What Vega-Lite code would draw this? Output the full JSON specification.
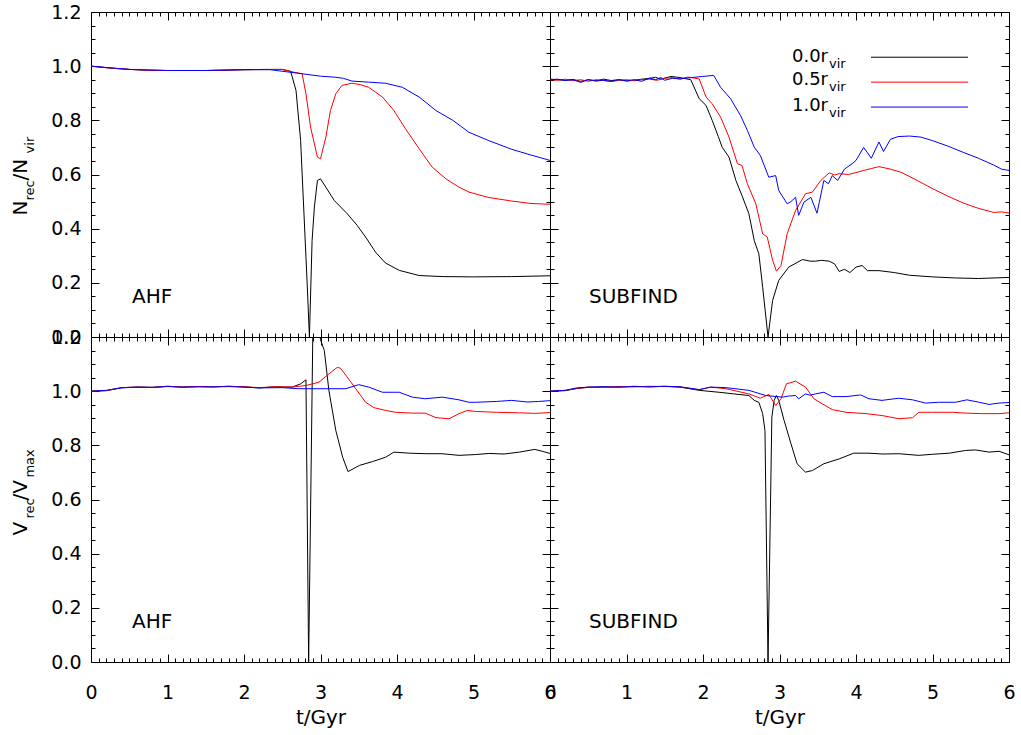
{
"$schema":"https://vega.github.io/schema/vega-lite/v6.json",
"background":"white",
"padding":{"left":10,"top":3,"right":5,"bottom":5},
"config":{"view":{"stroke":null},"font":"DejaVu Sans",
 "axis":{"labelFont":"DejaVu Sans","labelFontSize":19,"labelColor":"#000000","titleFont":"DejaVu Sans","titleFontSize":20,"titleFontWeight":"normal","titleColor":"#000000","tickColor":"#000000","domainColor":"#000000","grid":false,"tickWidth":1,"domainWidth":1,"labelFlush":false,"labelOverlap":false}},
"datasets":{
"frame":[{"t":0,"v":0},{"t":6,"v":1.2}],
"labels":[{"p":"TL","t":0.536,"v":0.127,"s":"AHF"},{"p":"TR","t":0.51,"v":0.127,"s":"SUBFIND"},{"p":"BL","t":0.536,"v":0.127,"s":"AHF"},{"p":"BR","t":0.51,"v":0.127,"s":"SUBFIND"}],
"ytitle":[{"p":"TL","k":"main","t":-0.837,"v":0.449,"s":"N"},{"p":"TL","k":"sub","t":-0.745,"v":0.504,"s":"rec"},{"p":"TL","k":"main","t":-0.837,"v":0.578,"s":"/N"},{"p":"TL","k":"sub","t":-0.745,"v":0.678,"s":"vir"},
{"p":"BL","k":"main","t":-0.837,"v":0.467,"s":"V"},{"p":"BL","k":"sub","t":-0.745,"v":0.530,"s":"rec"},{"p":"BL","k":"main","t":-0.837,"v":0.596,"s":"/V"},{"p":"BL","k":"sub","t":-0.745,"v":0.681,"s":"max"}],
"legtext":[{"k":"main","t":3.634,"v":1.014,"s":"0.0r"},{"k":"sub","t":3.647,"v":0.992,"s":"vir"},{"k":"main","t":3.634,"v":0.929,"s":"0.5r"},{"k":"sub","t":3.647,"v":0.907,"s":"vir"},{"k":"main","t":3.634,"v":0.836,"s":"1.0r"},{"k":"sub","t":3.647,"v":0.814,"s":"vir"}],
"leglines":[{"r":"0.0","t":4.196,"v":1.033},{"r":"0.0","t":5.464,"v":1.033},{"r":"0.5","t":4.196,"v":0.941},{"r":"0.5","t":5.464,"v":0.941},{"r":"1.0","t":4.196,"v":0.849},{"r":"1.0","t":5.464,"v":0.849}],
"curves":[
{"p":"TL","r":"0.0","t":0,"v":1.0},{"p":"TL","r":"0.0","t":0.25,"v":0.993},{"p":"TL","r":"0.0","t":0.5,"v":0.988},{"p":"TL","r":"0.0","t":0.75,"v":0.985},{"p":"TL","r":"0.0","t":1.0,"v":0.984},{"p":"TL","r":"0.0","t":1.25,"v":0.984},{"p":"TL","r":"0.0","t":1.5,"v":0.984},{"p":"TL","r":"0.0","t":1.75,"v":0.985},{"p":"TL","r":"0.0","t":2.0,"v":0.987},{"p":"TL","r":"0.0","t":2.25,"v":0.988},{"p":"TL","r":"0.0","t":2.5,"v":0.988},{"p":"TL","r":"0.0","t":2.61,"v":0.981},{"p":"TL","r":"0.0","t":2.68,"v":0.91},{"p":"TL","r":"0.0","t":2.74,"v":0.726},{"p":"TL","r":"0.0","t":2.78,"v":0.48},{"p":"TL","r":"0.0","t":2.83,"v":0.17},{"p":"TL","r":"0.0","t":2.855,"v":0.0},{"p":"TL","r":"0.0","t":2.89,"v":0.356},{"p":"TL","r":"0.0","t":2.92,"v":0.48},{"p":"TL","r":"0.0","t":2.96,"v":0.578},{"p":"TL","r":"0.0","t":3.0,"v":0.584},{"p":"TL","r":"0.0","t":3.07,"v":0.553},{"p":"TL","r":"0.0","t":3.18,"v":0.504},{"p":"TL","r":"0.0","t":3.35,"v":0.455},{"p":"TL","r":"0.0","t":3.48,"v":0.412},{"p":"TL","r":"0.0","t":3.59,"v":0.369},{"p":"TL","r":"0.0","t":3.72,"v":0.313},{"p":"TL","r":"0.0","t":3.85,"v":0.273},{"p":"TL","r":"0.0","t":4.03,"v":0.246},{"p":"TL","r":"0.0","t":4.29,"v":0.227},{"p":"TL","r":"0.0","t":4.6,"v":0.223},{"p":"TL","r":"0.0","t":5.0,"v":0.222},{"p":"TL","r":"0.0","t":5.5,"v":0.223},{"p":"TL","r":"0.0","t":6.0,"v":0.226},
{"p":"TL","r":"0.5","t":0,"v":1.0},{"p":"TL","r":"0.5","t":0.25,"v":0.993},{"p":"TL","r":"0.5","t":0.5,"v":0.988},{"p":"TL","r":"0.5","t":0.75,"v":0.985},{"p":"TL","r":"0.5","t":1.0,"v":0.984},{"p":"TL","r":"0.5","t":1.5,"v":0.984},{"p":"TL","r":"0.5","t":2.0,"v":0.987},{"p":"TL","r":"0.5","t":2.5,"v":0.988},{"p":"TL","r":"0.5","t":2.65,"v":0.978},{"p":"TL","r":"0.5","t":2.76,"v":0.972},{"p":"TL","r":"0.5","t":2.81,"v":0.898},{"p":"TL","r":"0.5","t":2.87,"v":0.775},{"p":"TL","r":"0.5","t":2.96,"v":0.664},{"p":"TL","r":"0.5","t":3.0,"v":0.658},{"p":"TL","r":"0.5","t":3.07,"v":0.738},{"p":"TL","r":"0.5","t":3.13,"v":0.836},{"p":"TL","r":"0.5","t":3.2,"v":0.898},{"p":"TL","r":"0.5","t":3.28,"v":0.929},{"p":"TL","r":"0.5","t":3.41,"v":0.937},{"p":"TL","r":"0.5","t":3.52,"v":0.932},{"p":"TL","r":"0.5","t":3.63,"v":0.922},{"p":"TL","r":"0.5","t":3.81,"v":0.886},{"p":"TL","r":"0.5","t":3.96,"v":0.836},{"p":"TL","r":"0.5","t":4.11,"v":0.769},{"p":"TL","r":"0.5","t":4.29,"v":0.695},{"p":"TL","r":"0.5","t":4.46,"v":0.627},{"p":"TL","r":"0.5","t":4.64,"v":0.584},{"p":"TL","r":"0.5","t":4.8,"v":0.555},{"p":"TL","r":"0.5","t":4.94,"v":0.535},{"p":"TL","r":"0.5","t":5.2,"v":0.515},{"p":"TL","r":"0.5","t":5.5,"v":0.502},{"p":"TL","r":"0.5","t":5.75,"v":0.493},{"p":"TL","r":"0.5","t":6.0,"v":0.49},
{"p":"TL","r":"1.0","t":0,"v":1.0},{"p":"TL","r":"1.0","t":0.5,"v":0.988},{"p":"TL","r":"1.0","t":1.0,"v":0.984},{"p":"TL","r":"1.0","t":1.5,"v":0.984},{"p":"TL","r":"1.0","t":2.0,"v":0.987},{"p":"TL","r":"1.0","t":2.34,"v":0.987},{"p":"TL","r":"1.0","t":2.76,"v":0.972},{"p":"TL","r":"1.0","t":3.0,"v":0.963},{"p":"TL","r":"1.0","t":3.2,"v":0.959},{"p":"TL","r":"1.0","t":3.3,"v":0.955},{"p":"TL","r":"1.0","t":3.41,"v":0.945},{"p":"TL","r":"1.0","t":3.63,"v":0.941},{"p":"TL","r":"1.0","t":3.85,"v":0.937},{"p":"TL","r":"1.0","t":4.07,"v":0.922},{"p":"TL","r":"1.0","t":4.29,"v":0.886},{"p":"TL","r":"1.0","t":4.51,"v":0.836},{"p":"TL","r":"1.0","t":4.73,"v":0.8},{"p":"TL","r":"1.0","t":4.94,"v":0.756},{"p":"TL","r":"1.0","t":5.2,"v":0.725},{"p":"TL","r":"1.0","t":5.5,"v":0.693},{"p":"TL","r":"1.0","t":5.75,"v":0.672},{"p":"TL","r":"1.0","t":6.0,"v":0.652},
{"p":"TR","r":"0.0","t":0,"v":0.952},{"p":"TR","r":"0.0","t":0.1,"v":0.95},{"p":"TR","r":"0.0","t":0.2,"v":0.948},{"p":"TR","r":"0.0","t":0.3,"v":0.951},{"p":"TR","r":"0.0","t":0.4,"v":0.944},{"p":"TR","r":"0.0","t":0.5,"v":0.95},{"p":"TR","r":"0.0","t":0.6,"v":0.946},{"p":"TR","r":"0.0","t":0.7,"v":0.952},{"p":"TR","r":"0.0","t":0.8,"v":0.947},{"p":"TR","r":"0.0","t":0.9,"v":0.95},{"p":"TR","r":"0.0","t":1.0,"v":0.945},{"p":"TR","r":"0.0","t":1.1,"v":0.948},{"p":"TR","r":"0.0","t":1.2,"v":0.952},{"p":"TR","r":"0.0","t":1.3,"v":0.955},{"p":"TR","r":"0.0","t":1.38,"v":0.959},{"p":"TR","r":"0.0","t":1.45,"v":0.952},{"p":"TR","r":"0.0","t":1.58,"v":0.962},{"p":"TR","r":"0.0","t":1.7,"v":0.958},{"p":"TR","r":"0.0","t":1.84,"v":0.95},{"p":"TR","r":"0.0","t":1.95,"v":0.88},{"p":"TR","r":"0.0","t":2.04,"v":0.855},{"p":"TR","r":"0.0","t":2.12,"v":0.8},{"p":"TR","r":"0.0","t":2.2,"v":0.74},{"p":"TR","r":"0.0","t":2.25,"v":0.701},{"p":"TR","r":"0.0","t":2.34,"v":0.664},{"p":"TR","r":"0.0","t":2.43,"v":0.578},{"p":"TR","r":"0.0","t":2.51,"v":0.522},{"p":"TR","r":"0.0","t":2.6,"v":0.455},{"p":"TR","r":"0.0","t":2.67,"v":0.356},{"p":"TR","r":"0.0","t":2.73,"v":0.307},{"p":"TR","r":"0.0","t":2.78,"v":0.184},{"p":"TR","r":"0.0","t":2.85,"v":0.0},{"p":"TR","r":"0.0","t":2.91,"v":0.135},{"p":"TR","r":"0.0","t":2.99,"v":0.209},{"p":"TR","r":"0.0","t":3.12,"v":0.258},{"p":"TR","r":"0.0","t":3.3,"v":0.286},{"p":"TR","r":"0.0","t":3.4,"v":0.28},{"p":"TR","r":"0.0","t":3.47,"v":0.28},{"p":"TR","r":"0.0","t":3.55,"v":0.283},{"p":"TR","r":"0.0","t":3.65,"v":0.28},{"p":"TR","r":"0.0","t":3.72,"v":0.27},{"p":"TR","r":"0.0","t":3.78,"v":0.242},{"p":"TR","r":"0.0","t":3.85,"v":0.25},{"p":"TR","r":"0.0","t":3.92,"v":0.238},{"p":"TR","r":"0.0","t":4.0,"v":0.258},{"p":"TR","r":"0.0","t":4.08,"v":0.264},{"p":"TR","r":"0.0","t":4.15,"v":0.245},{"p":"TR","r":"0.0","t":4.3,"v":0.245},{"p":"TR","r":"0.0","t":4.5,"v":0.238},{"p":"TR","r":"0.0","t":4.7,"v":0.228},{"p":"TR","r":"0.0","t":5.0,"v":0.222},{"p":"TR","r":"0.0","t":5.3,"v":0.218},{"p":"TR","r":"0.0","t":5.6,"v":0.216},{"p":"TR","r":"0.0","t":6.0,"v":0.22},
{"p":"TR","r":"0.5","t":0,"v":0.95},{"p":"TR","r":"0.5","t":0.1,"v":0.948},{"p":"TR","r":"0.5","t":0.2,"v":0.952},{"p":"TR","r":"0.5","t":0.3,"v":0.946},{"p":"TR","r":"0.5","t":0.4,"v":0.95},{"p":"TR","r":"0.5","t":0.5,"v":0.944},{"p":"TR","r":"0.5","t":0.6,"v":0.95},{"p":"TR","r":"0.5","t":0.7,"v":0.947},{"p":"TR","r":"0.5","t":0.8,"v":0.943},{"p":"TR","r":"0.5","t":0.9,"v":0.948},{"p":"TR","r":"0.5","t":1.0,"v":0.95},{"p":"TR","r":"0.5","t":1.1,"v":0.946},{"p":"TR","r":"0.5","t":1.2,"v":0.95},{"p":"TR","r":"0.5","t":1.3,"v":0.952},{"p":"TR","r":"0.5","t":1.4,"v":0.948},{"p":"TR","r":"0.5","t":1.5,"v":0.955},{"p":"TR","r":"0.5","t":1.6,"v":0.958},{"p":"TR","r":"0.5","t":1.7,"v":0.952},{"p":"TR","r":"0.5","t":1.8,"v":0.96},{"p":"TR","r":"0.5","t":1.95,"v":0.953},{"p":"TR","r":"0.5","t":2.04,"v":0.886},{"p":"TR","r":"0.5","t":2.12,"v":0.861},{"p":"TR","r":"0.5","t":2.23,"v":0.812},{"p":"TR","r":"0.5","t":2.34,"v":0.738},{"p":"TR","r":"0.5","t":2.45,"v":0.64},{"p":"TR","r":"0.5","t":2.51,"v":0.633},{"p":"TR","r":"0.5","t":2.58,"v":0.566},{"p":"TR","r":"0.5","t":2.69,"v":0.492},{"p":"TR","r":"0.5","t":2.78,"v":0.381},{"p":"TR","r":"0.5","t":2.84,"v":0.369},{"p":"TR","r":"0.5","t":2.91,"v":0.283},{"p":"TR","r":"0.5","t":2.96,"v":0.243},{"p":"TR","r":"0.5","t":3.02,"v":0.264},{"p":"TR","r":"0.5","t":3.1,"v":0.381},{"p":"TR","r":"0.5","t":3.21,"v":0.467},{"p":"TR","r":"0.5","t":3.34,"v":0.529},{"p":"TR","r":"0.5","t":3.43,"v":0.535},{"p":"TR","r":"0.5","t":3.54,"v":0.578},{"p":"TR","r":"0.5","t":3.65,"v":0.606},{"p":"TR","r":"0.5","t":3.72,"v":0.598},{"p":"TR","r":"0.5","t":3.78,"v":0.603},{"p":"TR","r":"0.5","t":3.9,"v":0.6},{"p":"TR","r":"0.5","t":4.0,"v":0.607},{"p":"TR","r":"0.5","t":4.1,"v":0.615},{"p":"TR","r":"0.5","t":4.2,"v":0.622},{"p":"TR","r":"0.5","t":4.3,"v":0.629},{"p":"TR","r":"0.5","t":4.45,"v":0.62},{"p":"TR","r":"0.5","t":4.6,"v":0.607},{"p":"TR","r":"0.5","t":4.8,"v":0.578},{"p":"TR","r":"0.5","t":5.0,"v":0.548},{"p":"TR","r":"0.5","t":5.2,"v":0.52},{"p":"TR","r":"0.5","t":5.4,"v":0.495},{"p":"TR","r":"0.5","t":5.6,"v":0.475},{"p":"TR","r":"0.5","t":5.8,"v":0.46},{"p":"TR","r":"0.5","t":5.9,"v":0.462},{"p":"TR","r":"0.5","t":6.0,"v":0.458},
{"p":"TR","r":"1.0","t":0,"v":0.95},{"p":"TR","r":"1.0","t":0.1,"v":0.952},{"p":"TR","r":"1.0","t":0.2,"v":0.947},{"p":"TR","r":"1.0","t":0.3,"v":0.95},{"p":"TR","r":"1.0","t":0.4,"v":0.94},{"p":"TR","r":"1.0","t":0.5,"v":0.95},{"p":"TR","r":"1.0","t":0.6,"v":0.945},{"p":"TR","r":"1.0","t":0.7,"v":0.948},{"p":"TR","r":"1.0","t":0.8,"v":0.944},{"p":"TR","r":"1.0","t":0.9,"v":0.95},{"p":"TR","r":"1.0","t":1.0,"v":0.946},{"p":"TR","r":"1.0","t":1.1,"v":0.95},{"p":"TR","r":"1.0","t":1.2,"v":0.944},{"p":"TR","r":"1.0","t":1.3,"v":0.956},{"p":"TR","r":"1.0","t":1.38,"v":0.95},{"p":"TR","r":"1.0","t":1.45,"v":0.958},{"p":"TR","r":"1.0","t":1.5,"v":0.948},{"p":"TR","r":"1.0","t":1.6,"v":0.955},{"p":"TR","r":"1.0","t":1.7,"v":0.953},{"p":"TR","r":"1.0","t":1.82,"v":0.957},{"p":"TR","r":"1.0","t":1.99,"v":0.962},{"p":"TR","r":"1.0","t":2.14,"v":0.966},{"p":"TR","r":"1.0","t":2.23,"v":0.922},{"p":"TR","r":"1.0","t":2.36,"v":0.88},{"p":"TR","r":"1.0","t":2.49,"v":0.818},{"p":"TR","r":"1.0","t":2.58,"v":0.763},{"p":"TR","r":"1.0","t":2.67,"v":0.701},{"p":"TR","r":"1.0","t":2.75,"v":0.67},{"p":"TR","r":"1.0","t":2.86,"v":0.59},{"p":"TR","r":"1.0","t":2.95,"v":0.596},{"p":"TR","r":"1.0","t":2.99,"v":0.541},{"p":"TR","r":"1.0","t":3.1,"v":0.492},{"p":"TR","r":"1.0","t":3.15,"v":0.5},{"p":"TR","r":"1.0","t":3.21,"v":0.516},{"p":"TR","r":"1.0","t":3.25,"v":0.449},{"p":"TR","r":"1.0","t":3.32,"v":0.498},{"p":"TR","r":"1.0","t":3.41,"v":0.516},{"p":"TR","r":"1.0","t":3.49,"v":0.457},{"p":"TR","r":"1.0","t":3.58,"v":0.578},{"p":"TR","r":"1.0","t":3.64,"v":0.566},{"p":"TR","r":"1.0","t":3.69,"v":0.596},{"p":"TR","r":"1.0","t":3.76,"v":0.578},{"p":"TR","r":"1.0","t":3.85,"v":0.62},{"p":"TR","r":"1.0","t":3.95,"v":0.64},{"p":"TR","r":"1.0","t":4.0,"v":0.652},{"p":"TR","r":"1.0","t":4.1,"v":0.7},{"p":"TR","r":"1.0","t":4.2,"v":0.66},{"p":"TR","r":"1.0","t":4.3,"v":0.72},{"p":"TR","r":"1.0","t":4.36,"v":0.685},{"p":"TR","r":"1.0","t":4.45,"v":0.73},{"p":"TR","r":"1.0","t":4.55,"v":0.74},{"p":"TR","r":"1.0","t":4.7,"v":0.742},{"p":"TR","r":"1.0","t":4.85,"v":0.738},{"p":"TR","r":"1.0","t":5.0,"v":0.725},{"p":"TR","r":"1.0","t":5.2,"v":0.705},{"p":"TR","r":"1.0","t":5.4,"v":0.682},{"p":"TR","r":"1.0","t":5.6,"v":0.66},{"p":"TR","r":"1.0","t":5.8,"v":0.635},{"p":"TR","r":"1.0","t":5.9,"v":0.62},{"p":"TR","r":"1.0","t":6.0,"v":0.615},
{"p":"BL","r":"0.0","t":0,"v":1.0},{"p":"BL","r":"0.0","t":0.2,"v":1.002},{"p":"BL","r":"0.0","t":0.4,"v":1.013},{"p":"BL","r":"0.0","t":0.6,"v":1.015},{"p":"BL","r":"0.0","t":0.8,"v":1.014},{"p":"BL","r":"0.0","t":1.0,"v":1.018},{"p":"BL","r":"0.0","t":1.2,"v":1.015},{"p":"BL","r":"0.0","t":1.4,"v":1.017},{"p":"BL","r":"0.0","t":1.6,"v":1.016},{"p":"BL","r":"0.0","t":1.8,"v":1.018},{"p":"BL","r":"0.0","t":2.0,"v":1.016},{"p":"BL","r":"0.0","t":2.2,"v":1.012},{"p":"BL","r":"0.0","t":2.4,"v":1.016},{"p":"BL","r":"0.0","t":2.63,"v":1.015},{"p":"BL","r":"0.0","t":2.74,"v":1.027},{"p":"BL","r":"0.0","t":2.81,"v":1.042},{"p":"BL","r":"0.0","t":2.845,"v":0.0},{"p":"BL","r":"0.0","t":2.9,"v":1.22},{"p":"BL","r":"0.0","t":2.95,"v":1.4},{"p":"BL","r":"0.0","t":3.0,"v":1.19},{"p":"BL","r":"0.0","t":3.05,"v":1.15},{"p":"BL","r":"0.0","t":3.11,"v":1.002},{"p":"BL","r":"0.0","t":3.2,"v":0.855},{"p":"BL","r":"0.0","t":3.29,"v":0.756},{"p":"BL","r":"0.0","t":3.36,"v":0.703},{"p":"BL","r":"0.0","t":3.51,"v":0.726},{"p":"BL","r":"0.0","t":3.68,"v":0.74},{"p":"BL","r":"0.0","t":3.85,"v":0.756},{"p":"BL","r":"0.0","t":3.96,"v":0.775},{"p":"BL","r":"0.0","t":4.16,"v":0.771},{"p":"BL","r":"0.0","t":4.39,"v":0.769},{"p":"BL","r":"0.0","t":4.59,"v":0.769},{"p":"BL","r":"0.0","t":4.81,"v":0.763},{"p":"BL","r":"0.0","t":5.03,"v":0.766},{"p":"BL","r":"0.0","t":5.2,"v":0.77},{"p":"BL","r":"0.0","t":5.4,"v":0.768},{"p":"BL","r":"0.0","t":5.6,"v":0.775},{"p":"BL","r":"0.0","t":5.8,"v":0.785},{"p":"BL","r":"0.0","t":5.9,"v":0.778},{"p":"BL","r":"0.0","t":6.0,"v":0.77},
{"p":"BL","r":"0.5","t":0,"v":1.0},{"p":"BL","r":"0.5","t":0.2,"v":1.002},{"p":"BL","r":"0.5","t":0.4,"v":1.013},{"p":"BL","r":"0.5","t":0.6,"v":1.015},{"p":"BL","r":"0.5","t":0.8,"v":1.014},{"p":"BL","r":"0.5","t":1.0,"v":1.018},{"p":"BL","r":"0.5","t":1.2,"v":1.015},{"p":"BL","r":"0.5","t":1.4,"v":1.017},{"p":"BL","r":"0.5","t":1.6,"v":1.016},{"p":"BL","r":"0.5","t":1.8,"v":1.018},{"p":"BL","r":"0.5","t":2.0,"v":1.016},{"p":"BL","r":"0.5","t":2.2,"v":1.013},{"p":"BL","r":"0.5","t":2.4,"v":1.016},{"p":"BL","r":"0.5","t":2.63,"v":1.015},{"p":"BL","r":"0.5","t":2.81,"v":1.021},{"p":"BL","r":"0.5","t":2.98,"v":1.033},{"p":"BL","r":"0.5","t":3.11,"v":1.064},{"p":"BL","r":"0.5","t":3.22,"v":1.088},{"p":"BL","r":"0.5","t":3.26,"v":1.085},{"p":"BL","r":"0.5","t":3.35,"v":1.052},{"p":"BL","r":"0.5","t":3.46,"v":1.009},{"p":"BL","r":"0.5","t":3.59,"v":0.959},{"p":"BL","r":"0.5","t":3.7,"v":0.939},{"p":"BL","r":"0.5","t":3.85,"v":0.929},{"p":"BL","r":"0.5","t":3.98,"v":0.922},{"p":"BL","r":"0.5","t":4.2,"v":0.919},{"p":"BL","r":"0.5","t":4.37,"v":0.919},{"p":"BL","r":"0.5","t":4.51,"v":0.902},{"p":"BL","r":"0.5","t":4.68,"v":0.898},{"p":"BL","r":"0.5","t":4.81,"v":0.917},{"p":"BL","r":"0.5","t":4.92,"v":0.929},{"p":"BL","r":"0.5","t":5.03,"v":0.925},{"p":"BL","r":"0.5","t":5.3,"v":0.922},{"p":"BL","r":"0.5","t":5.6,"v":0.92},{"p":"BL","r":"0.5","t":5.8,"v":0.918},{"p":"BL","r":"0.5","t":6.0,"v":0.921},
{"p":"BL","r":"1.0","t":0,"v":1.0},{"p":"BL","r":"1.0","t":0.2,"v":1.003},{"p":"BL","r":"1.0","t":0.4,"v":1.012},{"p":"BL","r":"1.0","t":0.6,"v":1.015},{"p":"BL","r":"1.0","t":0.8,"v":1.014},{"p":"BL","r":"1.0","t":1.0,"v":1.017},{"p":"BL","r":"1.0","t":1.2,"v":1.015},{"p":"BL","r":"1.0","t":1.4,"v":1.016},{"p":"BL","r":"1.0","t":1.6,"v":1.016},{"p":"BL","r":"1.0","t":1.8,"v":1.017},{"p":"BL","r":"1.0","t":2.0,"v":1.015},{"p":"BL","r":"1.0","t":2.2,"v":1.012},{"p":"BL","r":"1.0","t":2.5,"v":1.013},{"p":"BL","r":"1.0","t":2.72,"v":1.009},{"p":"BL","r":"1.0","t":3.07,"v":1.009},{"p":"BL","r":"1.0","t":3.33,"v":1.009},{"p":"BL","r":"1.0","t":3.5,"v":1.024},{"p":"BL","r":"1.0","t":3.63,"v":1.015},{"p":"BL","r":"1.0","t":3.81,"v":0.996},{"p":"BL","r":"1.0","t":4.03,"v":0.996},{"p":"BL","r":"1.0","t":4.2,"v":0.978},{"p":"BL","r":"1.0","t":4.37,"v":0.972},{"p":"BL","r":"1.0","t":4.59,"v":0.978},{"p":"BL","r":"1.0","t":4.81,"v":0.968},{"p":"BL","r":"1.0","t":4.94,"v":0.959},{"p":"BL","r":"1.0","t":5.03,"v":0.959},{"p":"BL","r":"1.0","t":5.3,"v":0.962},{"p":"BL","r":"1.0","t":5.5,"v":0.966},{"p":"BL","r":"1.0","t":5.7,"v":0.96},{"p":"BL","r":"1.0","t":5.85,"v":0.962},{"p":"BL","r":"1.0","t":6.0,"v":0.965},
{"p":"BR","r":"0.0","t":0,"v":1.0},{"p":"BR","r":"0.0","t":0.2,"v":1.002},{"p":"BR","r":"0.0","t":0.35,"v":1.01},{"p":"BR","r":"0.0","t":0.5,"v":1.014},{"p":"BR","r":"0.0","t":0.7,"v":1.016},{"p":"BR","r":"0.0","t":0.9,"v":1.015},{"p":"BR","r":"0.0","t":1.1,"v":1.018},{"p":"BR","r":"0.0","t":1.3,"v":1.016},{"p":"BR","r":"0.0","t":1.5,"v":1.018},{"p":"BR","r":"0.0","t":1.7,"v":1.015},{"p":"BR","r":"0.0","t":1.95,"v":1.003},{"p":"BR","r":"0.0","t":2.21,"v":0.996},{"p":"BR","r":"0.0","t":2.4,"v":0.99},{"p":"BR","r":"0.0","t":2.6,"v":0.984},{"p":"BR","r":"0.0","t":2.67,"v":0.966},{"p":"BR","r":"0.0","t":2.73,"v":0.959},{"p":"BR","r":"0.0","t":2.78,"v":0.917},{"p":"BR","r":"0.0","t":2.81,"v":0.855},{"p":"BR","r":"0.0","t":2.85,"v":0.0},{"p":"BR","r":"0.0","t":2.9,"v":0.904},{"p":"BR","r":"0.0","t":2.93,"v":0.966},{"p":"BR","r":"0.0","t":2.96,"v":0.984},{"p":"BR","r":"0.0","t":2.99,"v":0.966},{"p":"BR","r":"0.0","t":3.06,"v":0.892},{"p":"BR","r":"0.0","t":3.15,"v":0.806},{"p":"BR","r":"0.0","t":3.23,"v":0.732},{"p":"BR","r":"0.0","t":3.34,"v":0.701},{"p":"BR","r":"0.0","t":3.43,"v":0.707},{"p":"BR","r":"0.0","t":3.58,"v":0.732},{"p":"BR","r":"0.0","t":3.78,"v":0.75},{"p":"BR","r":"0.0","t":3.97,"v":0.771},{"p":"BR","r":"0.0","t":4.17,"v":0.771},{"p":"BR","r":"0.0","t":4.35,"v":0.768},{"p":"BR","r":"0.0","t":4.56,"v":0.769},{"p":"BR","r":"0.0","t":4.82,"v":0.763},{"p":"BR","r":"0.0","t":5.0,"v":0.767},{"p":"BR","r":"0.0","t":5.22,"v":0.771},{"p":"BR","r":"0.0","t":5.43,"v":0.781},{"p":"BR","r":"0.0","t":5.56,"v":0.783},{"p":"BR","r":"0.0","t":5.74,"v":0.775},{"p":"BR","r":"0.0","t":5.87,"v":0.778},{"p":"BR","r":"0.0","t":6.0,"v":0.765},
{"p":"BR","r":"0.5","t":0,"v":1.0},{"p":"BR","r":"0.5","t":0.2,"v":1.003},{"p":"BR","r":"0.5","t":0.35,"v":1.01},{"p":"BR","r":"0.5","t":0.5,"v":1.015},{"p":"BR","r":"0.5","t":0.7,"v":1.014},{"p":"BR","r":"0.5","t":0.9,"v":1.017},{"p":"BR","r":"0.5","t":1.1,"v":1.016},{"p":"BR","r":"0.5","t":1.3,"v":1.018},{"p":"BR","r":"0.5","t":1.5,"v":1.017},{"p":"BR","r":"0.5","t":1.7,"v":1.016},{"p":"BR","r":"0.5","t":1.95,"v":1.005},{"p":"BR","r":"0.5","t":2.1,"v":1.015},{"p":"BR","r":"0.5","t":2.3,"v":1.009},{"p":"BR","r":"0.5","t":2.6,"v":0.99},{"p":"BR","r":"0.5","t":2.75,"v":0.974},{"p":"BR","r":"0.5","t":2.86,"v":0.988},{"p":"BR","r":"0.5","t":2.95,"v":0.947},{"p":"BR","r":"0.5","t":3.02,"v":0.972},{"p":"BR","r":"0.5","t":3.09,"v":1.027},{"p":"BR","r":"0.5","t":3.21,"v":1.037},{"p":"BR","r":"0.5","t":3.34,"v":1.015},{"p":"BR","r":"0.5","t":3.45,"v":0.972},{"p":"BR","r":"0.5","t":3.56,"v":0.953},{"p":"BR","r":"0.5","t":3.69,"v":0.932},{"p":"BR","r":"0.5","t":3.87,"v":0.922},{"p":"BR","r":"0.5","t":4.13,"v":0.917},{"p":"BR","r":"0.5","t":4.34,"v":0.91},{"p":"BR","r":"0.5","t":4.56,"v":0.898},{"p":"BR","r":"0.5","t":4.74,"v":0.902},{"p":"BR","r":"0.5","t":4.82,"v":0.922},{"p":"BR","r":"0.5","t":5.0,"v":0.922},{"p":"BR","r":"0.5","t":5.26,"v":0.922},{"p":"BR","r":"0.5","t":5.43,"v":0.919},{"p":"BR","r":"0.5","t":5.65,"v":0.917},{"p":"BR","r":"0.5","t":5.87,"v":0.917},{"p":"BR","r":"0.5","t":6.0,"v":0.92},
{"p":"BR","r":"1.0","t":0,"v":1.0},{"p":"BR","r":"1.0","t":0.2,"v":1.003},{"p":"BR","r":"1.0","t":0.35,"v":1.012},{"p":"BR","r":"1.0","t":0.5,"v":1.015},{"p":"BR","r":"1.0","t":0.7,"v":1.016},{"p":"BR","r":"1.0","t":0.9,"v":1.015},{"p":"BR","r":"1.0","t":1.1,"v":1.017},{"p":"BR","r":"1.0","t":1.3,"v":1.016},{"p":"BR","r":"1.0","t":1.5,"v":1.018},{"p":"BR","r":"1.0","t":1.7,"v":1.016},{"p":"BR","r":"1.0","t":1.95,"v":1.006},{"p":"BR","r":"1.0","t":2.1,"v":1.015},{"p":"BR","r":"1.0","t":2.3,"v":1.013},{"p":"BR","r":"1.0","t":2.6,"v":1.003},{"p":"BR","r":"1.0","t":2.82,"v":0.984},{"p":"BR","r":"1.0","t":3.04,"v":0.978},{"p":"BR","r":"1.0","t":3.12,"v":0.982},{"p":"BR","r":"1.0","t":3.21,"v":0.984},{"p":"BR","r":"1.0","t":3.25,"v":0.972},{"p":"BR","r":"1.0","t":3.34,"v":0.99},{"p":"BR","r":"1.0","t":3.4,"v":0.985},{"p":"BR","r":"1.0","t":3.47,"v":0.99},{"p":"BR","r":"1.0","t":3.58,"v":0.996},{"p":"BR","r":"1.0","t":3.69,"v":0.98},{"p":"BR","r":"1.0","t":3.87,"v":0.98},{"p":"BR","r":"1.0","t":4.06,"v":0.986},{"p":"BR","r":"1.0","t":4.17,"v":0.972},{"p":"BR","r":"1.0","t":4.34,"v":0.966},{"p":"BR","r":"1.0","t":4.56,"v":0.974},{"p":"BR","r":"1.0","t":4.74,"v":0.968},{"p":"BR","r":"1.0","t":4.91,"v":0.956},{"p":"BR","r":"1.0","t":5.08,"v":0.959},{"p":"BR","r":"1.0","t":5.3,"v":0.959},{"p":"BR","r":"1.0","t":5.45,"v":0.968},{"p":"BR","r":"1.0","t":5.61,"v":0.959},{"p":"BR","r":"1.0","t":5.74,"v":0.951},{"p":"BR","r":"1.0","t":5.87,"v":0.956},{"p":"BR","r":"1.0","t":6.0,"v":0.958}
]},
"columns":2,"spacing":0,"bounds":"flush",
"concat":[
{"width":459,"height":325,"resolve":{"axis":{"x":"independent","y":"independent"}},"layer":[
 {"data":{"name":"curves"},"transform":[{"filter":"datum.p==='TL'"}],"mark":{"type":"line","clip":true,"strokeWidth":1},
  "encoding":{"x":{"field":"t","type":"quantitative","scale":{"domain":[0,6],"nice":false,"zero":false},"axis":{"orient":"bottom","values":[0,1,2,3,4,5,6],"tickSize":-8,"labels":false,"title":null}},
   "y":{"field":"v","type":"quantitative","scale":{"domain":[0,1.2],"nice":false,"zero":false},"axis":{"orient":"left","values":[0,0.2,0.4,0.6,0.8,1,1.2],"tickSize":-8,"labelPadding":18,"format":".1f","title":null}},
   "color":{"field":"r","type":"nominal","scale":{"domain":["0.0","0.5","1.0"],"range":["#000000","#ff0000","#0000ff"]},"legend":null}}},
 {"data":{"name":"frame"},"mark":{"type":"point","opacity":0},"encoding":{"x":{"field":"t","type":"quantitative","axis":{"orient":"bottom","values":[0.1,0.2,0.3,0.4,0.5,0.6,0.7,0.8,0.9,1.1,1.2,1.3,1.4,1.5,1.6,1.7,1.8,1.9,2.1,2.2,2.3,2.4,2.5,2.6,2.7,2.8,2.9,3.1,3.2,3.3,3.4,3.5,3.6,3.7,3.8,3.9,4.1,4.2,4.3,4.4,4.5,4.6,4.7,4.8,4.9,5.1,5.2,5.3,5.4,5.5,5.6,5.7,5.8,5.9],"tickSize":-4,"labels":false,"domain":false,"title":null}},"y":{"field":"v","type":"quantitative","axis":{"orient":"left","values":[0.05,0.1,0.15,0.25,0.3,0.35,0.45,0.5,0.55,0.65,0.7,0.75,0.85,0.9,0.95,1.05,1.1,1.15],"tickSize":-4,"labels":false,"domain":false,"title":null}}}},
 {"data":{"name":"frame"},"mark":{"type":"point","opacity":0},"encoding":{"x":{"field":"t","type":"quantitative","axis":{"orient":"top","values":[0,1,2,3,4,5,6],"tickSize":-8,"labels":false,"title":null}},"y":{"field":"v","type":"quantitative","axis":{"orient":"right","values":[0,0.2,0.4,0.6,0.8,1,1.2],"tickSize":-8,"labels":false,"title":null}}}},
 {"data":{"name":"frame"},"mark":{"type":"point","opacity":0},"encoding":{"x":{"field":"t","type":"quantitative","axis":{"orient":"top","values":[0.1,0.2,0.3,0.4,0.5,0.6,0.7,0.8,0.9,1.1,1.2,1.3,1.4,1.5,1.6,1.7,1.8,1.9,2.1,2.2,2.3,2.4,2.5,2.6,2.7,2.8,2.9,3.1,3.2,3.3,3.4,3.5,3.6,3.7,3.8,3.9,4.1,4.2,4.3,4.4,4.5,4.6,4.7,4.8,4.9,5.1,5.2,5.3,5.4,5.5,5.6,5.7,5.8,5.9],"tickSize":-4,"labels":false,"domain":false,"title":null}},"y":{"field":"v","type":"quantitative","axis":{"orient":"right","values":[0.05,0.1,0.15,0.25,0.3,0.35,0.45,0.5,0.55,0.65,0.7,0.75,0.85,0.9,0.95,1.05,1.1,1.15],"tickSize":-4,"labels":false,"domain":false,"title":null}}}},
 {"data":{"name":"labels"},"transform":[{"filter":"datum.p==='TL'"}],"mark":{"type":"text","align":"left","baseline":"alphabetic","fontSize":20,"color":"#000000"},"encoding":{"x":{"field":"t","type":"quantitative","axis":null},"y":{"field":"v","type":"quantitative","axis":null},"text":{"field":"s"}}},
 {"data":{"name":"ytitle"},"transform":[{"filter":"datum.p==='TL' && datum.k==='main'"}],"mark":{"type":"text","angle":270,"align":"left","baseline":"alphabetic","fontSize":20,"color":"#000000"},"encoding":{"x":{"field":"t","type":"quantitative","axis":null},"y":{"field":"v","type":"quantitative","axis":null},"text":{"field":"s"}}},
 {"data":{"name":"ytitle"},"transform":[{"filter":"datum.p==='TL' && datum.k==='sub'"}],"mark":{"type":"text","angle":270,"align":"left","baseline":"alphabetic","fontSize":13,"color":"#000000"},"encoding":{"x":{"field":"t","type":"quantitative","axis":null},"y":{"field":"v","type":"quantitative","axis":null},"text":{"field":"s"}}}
]},
{"width":459,"height":325,"resolve":{"axis":{"x":"independent","y":"independent"}},"layer":[
 {"data":{"name":"curves"},"transform":[{"filter":"datum.p==='TR'"}],"mark":{"type":"line","clip":true,"strokeWidth":1},
  "encoding":{"x":{"field":"t","type":"quantitative","scale":{"domain":[0,6],"nice":false,"zero":false},"axis":{"orient":"bottom","values":[0,1,2,3,4,5,6],"tickSize":-8,"labels":false,"title":null}},
   "y":{"field":"v","type":"quantitative","scale":{"domain":[0,1.2],"nice":false,"zero":false},"axis":{"orient":"left","values":[0,0.2,0.4,0.6,0.8,1,1.2],"tickSize":-8,"labels":false,"title":null}},
   "color":{"field":"r","type":"nominal","scale":{"domain":["0.0","0.5","1.0"],"range":["#000000","#ff0000","#0000ff"]},"legend":null}}},
 {"data":{"name":"frame"},"mark":{"type":"point","opacity":0},"encoding":{"x":{"field":"t","type":"quantitative","axis":{"orient":"bottom","values":[0.1,0.2,0.3,0.4,0.5,0.6,0.7,0.8,0.9,1.1,1.2,1.3,1.4,1.5,1.6,1.7,1.8,1.9,2.1,2.2,2.3,2.4,2.5,2.6,2.7,2.8,2.9,3.1,3.2,3.3,3.4,3.5,3.6,3.7,3.8,3.9,4.1,4.2,4.3,4.4,4.5,4.6,4.7,4.8,4.9,5.1,5.2,5.3,5.4,5.5,5.6,5.7,5.8,5.9],"tickSize":-4,"labels":false,"domain":false,"title":null}},"y":{"field":"v","type":"quantitative","axis":{"orient":"left","values":[0.05,0.1,0.15,0.25,0.3,0.35,0.45,0.5,0.55,0.65,0.7,0.75,0.85,0.9,0.95,1.05,1.1,1.15],"tickSize":-4,"labels":false,"domain":false,"title":null}}}},
 {"data":{"name":"frame"},"mark":{"type":"point","opacity":0},"encoding":{"x":{"field":"t","type":"quantitative","axis":{"orient":"top","values":[0,1,2,3,4,5,6],"tickSize":-8,"labels":false,"title":null}},"y":{"field":"v","type":"quantitative","axis":{"orient":"right","values":[0,0.2,0.4,0.6,0.8,1,1.2],"tickSize":-8,"labels":false,"title":null}}}},
 {"data":{"name":"frame"},"mark":{"type":"point","opacity":0},"encoding":{"x":{"field":"t","type":"quantitative","axis":{"orient":"top","values":[0.1,0.2,0.3,0.4,0.5,0.6,0.7,0.8,0.9,1.1,1.2,1.3,1.4,1.5,1.6,1.7,1.8,1.9,2.1,2.2,2.3,2.4,2.5,2.6,2.7,2.8,2.9,3.1,3.2,3.3,3.4,3.5,3.6,3.7,3.8,3.9,4.1,4.2,4.3,4.4,4.5,4.6,4.7,4.8,4.9,5.1,5.2,5.3,5.4,5.5,5.6,5.7,5.8,5.9],"tickSize":-4,"labels":false,"domain":false,"title":null}},"y":{"field":"v","type":"quantitative","axis":{"orient":"right","values":[0.05,0.1,0.15,0.25,0.3,0.35,0.45,0.5,0.55,0.65,0.7,0.75,0.85,0.9,0.95,1.05,1.1,1.15],"tickSize":-4,"labels":false,"domain":false,"title":null}}}},
 {"data":{"name":"labels"},"transform":[{"filter":"datum.p==='TR'"}],"mark":{"type":"text","align":"left","baseline":"alphabetic","fontSize":20,"color":"#000000"},"encoding":{"x":{"field":"t","type":"quantitative","axis":null},"y":{"field":"v","type":"quantitative","axis":null},"text":{"field":"s"}}},
 {"data":{"name":"leglines"},"mark":{"type":"line","strokeWidth":1},"encoding":{"x":{"field":"t","type":"quantitative","axis":null},"y":{"field":"v","type":"quantitative","axis":null},"color":{"field":"r","type":"nominal","legend":null}}},
 {"data":{"name":"legtext"},"transform":[{"filter":"datum.k==='main'"}],"mark":{"type":"text","align":"right","baseline":"alphabetic","fontSize":18,"color":"#000000"},"encoding":{"x":{"field":"t","type":"quantitative","axis":null},"y":{"field":"v","type":"quantitative","axis":null},"text":{"field":"s"}}},
 {"data":{"name":"legtext"},"transform":[{"filter":"datum.k==='sub'"}],"mark":{"type":"text","align":"left","baseline":"alphabetic","fontSize":13,"color":"#000000"},"encoding":{"x":{"field":"t","type":"quantitative","axis":null},"y":{"field":"v","type":"quantitative","axis":null},"text":{"field":"s"}}}
]},
{"width":459,"height":325,"resolve":{"axis":{"x":"independent","y":"independent"}},"layer":[
 {"data":{"name":"curves"},"transform":[{"filter":"datum.p==='BL'"}],"mark":{"type":"line","clip":true,"strokeWidth":1},
  "encoding":{"x":{"field":"t","type":"quantitative","scale":{"domain":[0,6],"nice":false,"zero":false},"axis":{"orient":"bottom","values":[0,1,2,3,4,5,6],"tickSize":-8,"labelPadding":29,"format":"d","title":"t/Gyr","titlePadding":5}},
   "y":{"field":"v","type":"quantitative","scale":{"domain":[0,1.2],"nice":false,"zero":false},"axis":{"orient":"left","values":[0,0.2,0.4,0.6,0.8,1,1.2],"tickSize":-8,"labelPadding":18,"format":".1f","title":null}},
   "color":{"field":"r","type":"nominal","scale":{"domain":["0.0","0.5","1.0"],"range":["#000000","#ff0000","#0000ff"]},"legend":null}}},
 {"data":{"name":"frame"},"mark":{"type":"point","opacity":0},"encoding":{"x":{"field":"t","type":"quantitative","axis":{"orient":"bottom","values":[0.1,0.2,0.3,0.4,0.5,0.6,0.7,0.8,0.9,1.1,1.2,1.3,1.4,1.5,1.6,1.7,1.8,1.9,2.1,2.2,2.3,2.4,2.5,2.6,2.7,2.8,2.9,3.1,3.2,3.3,3.4,3.5,3.6,3.7,3.8,3.9,4.1,4.2,4.3,4.4,4.5,4.6,4.7,4.8,4.9,5.1,5.2,5.3,5.4,5.5,5.6,5.7,5.8,5.9],"tickSize":-4,"labels":false,"domain":false,"title":null}},"y":{"field":"v","type":"quantitative","axis":{"orient":"left","values":[0.05,0.1,0.15,0.25,0.3,0.35,0.45,0.5,0.55,0.65,0.7,0.75,0.85,0.9,0.95,1.05,1.1,1.15],"tickSize":-4,"labels":false,"domain":false,"title":null}}}},
 {"data":{"name":"frame"},"mark":{"type":"point","opacity":0},"encoding":{"x":{"field":"t","type":"quantitative","axis":{"orient":"top","values":[0,1,2,3,4,5,6],"tickSize":-8,"labels":false,"title":null}},"y":{"field":"v","type":"quantitative","axis":{"orient":"right","values":[0,0.2,0.4,0.6,0.8,1,1.2],"tickSize":-8,"labels":false,"title":null}}}},
 {"data":{"name":"frame"},"mark":{"type":"point","opacity":0},"encoding":{"x":{"field":"t","type":"quantitative","axis":{"orient":"top","values":[0.1,0.2,0.3,0.4,0.5,0.6,0.7,0.8,0.9,1.1,1.2,1.3,1.4,1.5,1.6,1.7,1.8,1.9,2.1,2.2,2.3,2.4,2.5,2.6,2.7,2.8,2.9,3.1,3.2,3.3,3.4,3.5,3.6,3.7,3.8,3.9,4.1,4.2,4.3,4.4,4.5,4.6,4.7,4.8,4.9,5.1,5.2,5.3,5.4,5.5,5.6,5.7,5.8,5.9],"tickSize":-4,"labels":false,"domain":false,"title":null}},"y":{"field":"v","type":"quantitative","axis":{"orient":"right","values":[0.05,0.1,0.15,0.25,0.3,0.35,0.45,0.5,0.55,0.65,0.7,0.75,0.85,0.9,0.95,1.05,1.1,1.15],"tickSize":-4,"labels":false,"domain":false,"title":null}}}},
 {"data":{"name":"labels"},"transform":[{"filter":"datum.p==='BL'"}],"mark":{"type":"text","align":"left","baseline":"alphabetic","fontSize":20,"color":"#000000"},"encoding":{"x":{"field":"t","type":"quantitative","axis":null},"y":{"field":"v","type":"quantitative","axis":null},"text":{"field":"s"}}},
 {"data":{"name":"ytitle"},"transform":[{"filter":"datum.p==='BL' && datum.k==='main'"}],"mark":{"type":"text","angle":270,"align":"left","baseline":"alphabetic","fontSize":20,"color":"#000000"},"encoding":{"x":{"field":"t","type":"quantitative","axis":null},"y":{"field":"v","type":"quantitative","axis":null},"text":{"field":"s"}}},
 {"data":{"name":"ytitle"},"transform":[{"filter":"datum.p==='BL' && datum.k==='sub'"}],"mark":{"type":"text","angle":270,"align":"left","baseline":"alphabetic","fontSize":13,"color":"#000000"},"encoding":{"x":{"field":"t","type":"quantitative","axis":null},"y":{"field":"v","type":"quantitative","axis":null},"text":{"field":"s"}}}
]},
{"width":459,"height":325,"resolve":{"axis":{"x":"independent","y":"independent"}},"layer":[
 {"data":{"name":"curves"},"transform":[{"filter":"datum.p==='BR'"}],"mark":{"type":"line","clip":true,"strokeWidth":1},
  "encoding":{"x":{"field":"t","type":"quantitative","scale":{"domain":[0,6],"nice":false,"zero":false},"axis":{"orient":"bottom","values":[0,1,2,3,4,5,6],"tickSize":-8,"labelPadding":29,"format":"d","title":"t/Gyr","titlePadding":5}},
   "y":{"field":"v","type":"quantitative","scale":{"domain":[0,1.2],"nice":false,"zero":false},"axis":{"orient":"left","values":[0,0.2,0.4,0.6,0.8,1,1.2],"tickSize":-8,"labels":false,"title":null}},
   "color":{"field":"r","type":"nominal","scale":{"domain":["0.0","0.5","1.0"],"range":["#000000","#ff0000","#0000ff"]},"legend":null}}},
 {"data":{"name":"frame"},"mark":{"type":"point","opacity":0},"encoding":{"x":{"field":"t","type":"quantitative","axis":{"orient":"bottom","values":[0.1,0.2,0.3,0.4,0.5,0.6,0.7,0.8,0.9,1.1,1.2,1.3,1.4,1.5,1.6,1.7,1.8,1.9,2.1,2.2,2.3,2.4,2.5,2.6,2.7,2.8,2.9,3.1,3.2,3.3,3.4,3.5,3.6,3.7,3.8,3.9,4.1,4.2,4.3,4.4,4.5,4.6,4.7,4.8,4.9,5.1,5.2,5.3,5.4,5.5,5.6,5.7,5.8,5.9],"tickSize":-4,"labels":false,"domain":false,"title":null}},"y":{"field":"v","type":"quantitative","axis":{"orient":"left","values":[0.05,0.1,0.15,0.25,0.3,0.35,0.45,0.5,0.55,0.65,0.7,0.75,0.85,0.9,0.95,1.05,1.1,1.15],"tickSize":-4,"labels":false,"domain":false,"title":null}}}},
 {"data":{"name":"frame"},"mark":{"type":"point","opacity":0},"encoding":{"x":{"field":"t","type":"quantitative","axis":{"orient":"top","values":[0,1,2,3,4,5,6],"tickSize":-8,"labels":false,"title":null}},"y":{"field":"v","type":"quantitative","axis":{"orient":"right","values":[0,0.2,0.4,0.6,0.8,1,1.2],"tickSize":-8,"labels":false,"title":null}}}},
 {"data":{"name":"frame"},"mark":{"type":"point","opacity":0},"encoding":{"x":{"field":"t","type":"quantitative","axis":{"orient":"top","values":[0.1,0.2,0.3,0.4,0.5,0.6,0.7,0.8,0.9,1.1,1.2,1.3,1.4,1.5,1.6,1.7,1.8,1.9,2.1,2.2,2.3,2.4,2.5,2.6,2.7,2.8,2.9,3.1,3.2,3.3,3.4,3.5,3.6,3.7,3.8,3.9,4.1,4.2,4.3,4.4,4.5,4.6,4.7,4.8,4.9,5.1,5.2,5.3,5.4,5.5,5.6,5.7,5.8,5.9],"tickSize":-4,"labels":false,"domain":false,"title":null}},"y":{"field":"v","type":"quantitative","axis":{"orient":"right","values":[0.05,0.1,0.15,0.25,0.3,0.35,0.45,0.5,0.55,0.65,0.7,0.75,0.85,0.9,0.95,1.05,1.1,1.15],"tickSize":-4,"labels":false,"domain":false,"title":null}}}},
 {"data":{"name":"labels"},"transform":[{"filter":"datum.p==='BR'"}],"mark":{"type":"text","align":"left","baseline":"alphabetic","fontSize":20,"color":"#000000"},"encoding":{"x":{"field":"t","type":"quantitative","axis":null},"y":{"field":"v","type":"quantitative","axis":null},"text":{"field":"s"}}}
]}
]}
